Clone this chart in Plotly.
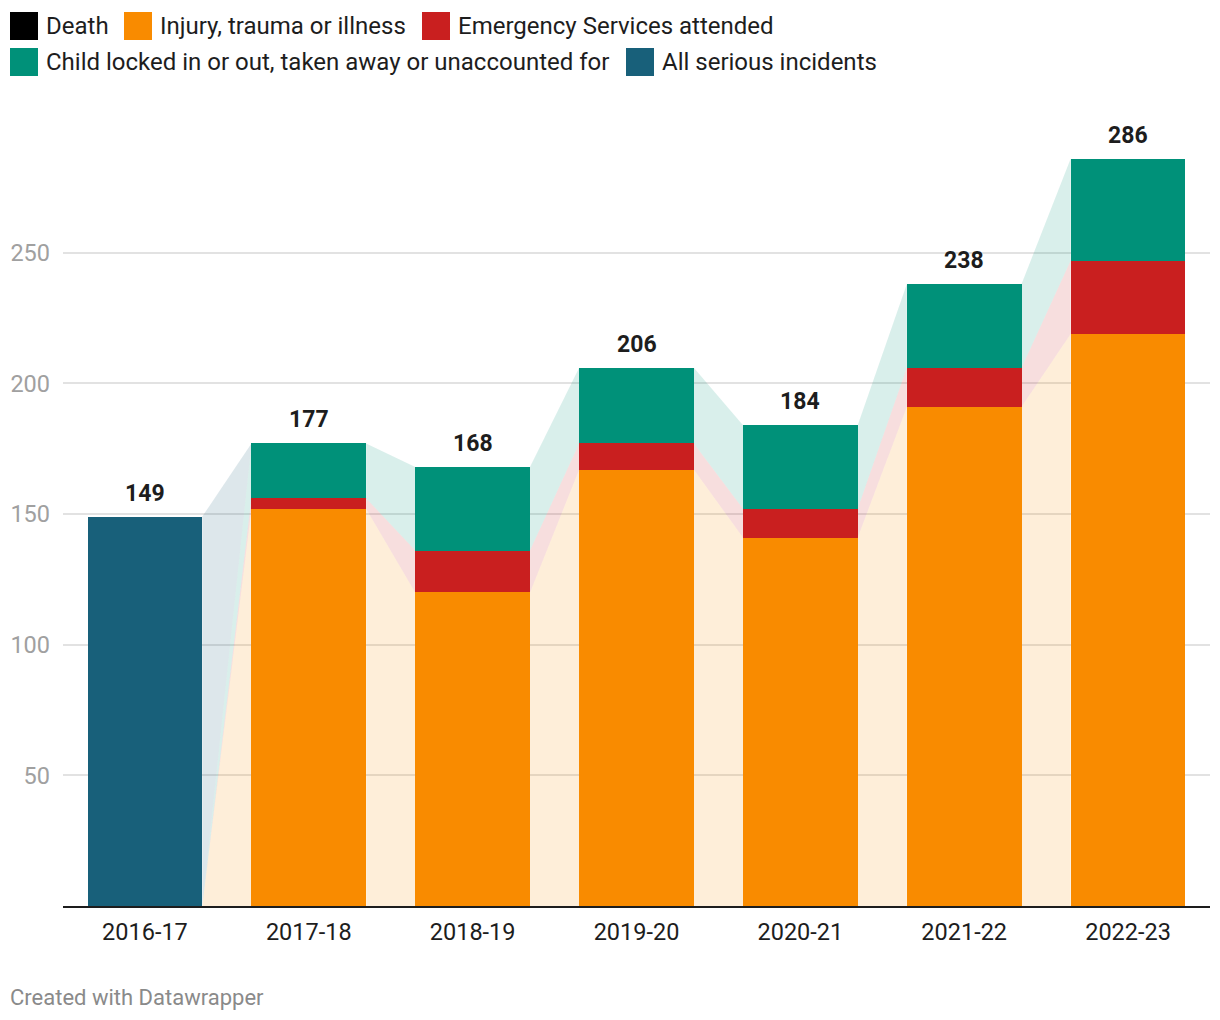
import plotly.graph_objects as go

# ---- data ----
years = ["2016-17", "2017-18", "2018-19", "2019-20", "2020-21", "2021-22", "2022-23"]
death = [0, 0, 0, 0, 0, 0, 0]
injury = [0, 152, 120, 167, 141, 191, 219]
emergency = [0, 4, 16, 10, 11, 15, 28]
child = [0, 21, 32, 29, 32, 32, 39]
all_serious = [149, 0, 0, 0, 0, 0, 0]
y_ticks = [50, 100, 150, 200, 250]

series = [
    ("Death", death, "#000000", "rgba(0,0,0,0.15)"),
    ("Injury, trauma or illness", injury, "#f98b00", "rgba(249,139,0,0.15)"),
    ("Emergency Services attended", emergency, "#c91f1f", "rgba(201,31,31,0.15)"),
    ("Child locked in or out, taken away or unaccounted for", child, "#009179", "rgba(0,145,121,0.15)"),
    ("All serious incidents", all_serious, "#18607a", "rgba(24,96,122,0.15)"),
]

W, H = 1220, 1020
ML, MR, MT, MB = 63, 10, 122, 114
PW, PH = W - ML - MR, H - MT - MB
FONT = "Roboto"
BAR_W = 0.7

xs = list(range(len(years)))
fig = go.Figure()

# stacked bottoms/tops
bottoms = [0] * len(years)
stack = []
for name, vals, col, fcol in series:
    b = bottoms[:]
    t = [bb + v for bb, v in zip(b, vals)]
    stack.append((name, vals, col, fcol, b, t))
    bottoms = t
totals = bottoms

# connecting areas between bars
for name, vals, col, fcol, b, t in stack:
    for i in range(len(years) - 1):
        x0 = xs[i] + BAR_W / 2
        x1 = xs[i + 1] - BAR_W / 2
        px = [x0, x0, x1, x1, x0]
        py = [b[i], t[i], t[i + 1], b[i + 1], b[i]]
        if t[i] == b[i] and t[i + 1] == b[i + 1]:
            continue
        fig.add_trace(go.Scatter(x=px, y=py, mode="lines", fill="toself",
                                 fillcolor=fcol, line=dict(width=0),
                                 hoverinfo="skip", showlegend=False))

for name, vals, col, fcol, b, t in stack:
    fig.add_trace(go.Bar(x=xs, y=vals, name=name, marker=dict(color=col, line=dict(width=0)),
                         width=BAR_W, showlegend=False))

annotations = []
for i, tot in enumerate(totals):
    annotations.append(dict(x=xs[i], y=tot, xref="x", yref="y", text=f"<b>{tot}</b>",
                            showarrow=False, yanchor="bottom", yshift=8,
                            font=dict(family=FONT, size=23, color="#1d1d1d")))

def px2x(p):
    return (p - ML) / PW

def py2y(p):
    return (H - MB - p) / PH

shapes = []
legend_items = [
    (series[0], 10, 26), (series[1], 124, 26), (series[2], 422, 26),
    (series[3], 10, 62), (series[4], 626, 62),
]
for (name, vals, col, fcol), lx, ly in legend_items:
    shapes.append(dict(type="rect", xref="paper", yref="paper",
                       x0=px2x(lx), x1=px2x(lx + 28), y0=py2y(ly + 14), y1=py2y(ly - 14),
                       fillcolor=col, line=dict(width=0)))
    annotations.append(dict(x=px2x(lx + 34), y=py2y(ly), xref="paper", yref="paper",
                            text=name, showarrow=False, xanchor="left", yanchor="middle",
                            font=dict(family=FONT, size=24, color="#1d1d1d")))

annotations.append(dict(x=px2x(8), y=py2y(997), xref="paper", yref="paper",
                        text="Created with Datawrapper", showarrow=False,
                        xanchor="left", yanchor="middle",
                        font=dict(family=FONT, size=22, color="#8a8a8a")))

fig.update_layout(
    width=W, height=H, margin=dict(l=ML, r=MR, t=MT, b=MB, pad=0),
    barmode="stack", bargap=0.3,
    plot_bgcolor="white", paper_bgcolor="white",
    font=dict(family=FONT),
    annotations=annotations, shapes=shapes,
    xaxis=dict(range=[-0.5, len(years) - 0.5], tickvals=xs, ticktext=years,
               showgrid=False, zeroline=False, showline=True, linecolor="#1d1d1d", linewidth=2,
               ticks="", ticklabelstandoff=4,
               tickfont=dict(family=FONT, size=23.5, color="#1d1d1d")),
    yaxis=dict(range=[0, 300], tickvals=y_ticks, showgrid=True, gridcolor="#e2e2e2",
               gridwidth=1.5, zeroline=False, showline=False, ticks="",
               ticklabelstandoff=12,
               tickfont=dict(family=FONT, size=23.5, color="#a0a0a0")),
    hovermode=False,
)

fig.write_html("out.html")
